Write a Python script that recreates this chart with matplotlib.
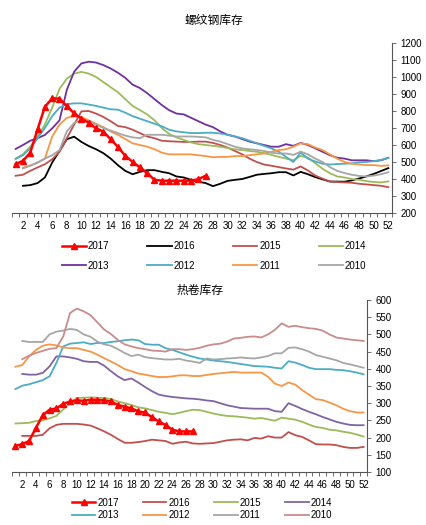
import matplotlib
matplotlib.use("Agg")
import matplotlib.pyplot as plt
import numpy as np

plt.rcParams['font.family'] = ['Liberation Sans', 'Noto Sans CJK SC', 'DejaVu Sans']

weeks = np.arange(1, 53)

# ---- rebar (螺纹钢库存) ----
rb_2017 = [487, 507, 555, 692, 825, 874, 872, 829, 786, 755, 731, 698, 679, 634, 589,
           536, 501, 468, 434, 395, 390, 390, 390, 390, 390, 399, 419]
rb_2016 = [None, 360, 364, 376, 409, 497, 565, 634, 649, 618, 594, 575, 552, 520, 481,
           448, 428, 442, 452, 452, 442, 434, 415, 409, 395, 384, 376, 358, 372, 389,
           395, 400, 412, 425, 430, 434, 440, 440, 421, 442, 428, 411, 398, 385, 385,
           384, 392, 403, 415, 430, 447, 464]
rb_2015 = [419, 425, 448, 468, 487, 516, 560, 640, 720, 798, 800, 785, 765, 740, 712,
           705, 690, 670, 650, 640, 625, 622, 620, 618, 618, 620, 620, 612, 600, 585,
           565, 545, 520, 500, 485, 478, 470, 462, 455, 474, 450, 420, 402, 385, 382,
           380, 378, 372, 368, 364, 360, 352]
rb_2014 = [520, 545, 590, 650, 720, 820, 930, 990, 1020, 1030, 1020, 1000, 970, 940, 910,
           870, 830, 805, 780, 745, 700, 665, 645, 630, 615, 605, 600, 595, 590, 582,
           575, 570, 565, 560, 552, 542, 530, 520, 510, 536, 525, 493, 460, 434, 415,
           409, 400, 395, 388, 382, 380, 386]
rb_2013 = [577, 600, 625, 640, 659, 698, 745, 924, 1031, 1080, 1090, 1085, 1070, 1050, 1025,
           995, 955, 935, 905, 870, 835, 805, 785, 780, 760, 740, 720, 705, 680, 660,
           650, 635, 620, 610, 600, 590, 590, 605, 595, 612, 600, 580, 560, 540, 525,
           520, 510, 510, 510, 505, 510, 525]
rb_2012 = [518, 540, 580, 640, 700, 770, 820, 840, 845, 845, 838, 830, 820, 810, 808,
           790, 770, 755, 740, 725, 710, 690, 680, 675, 670, 670, 672, 672, 668, 660,
           650, 640, 625, 610, 595, 580, 560, 530, 500, 555, 520, 503, 490, 485, 488,
           490, 492, 498, 500, 505, 512, 524]
rb_2011 = [None, 467, 480, 495, 520, 650, 720, 760, 770, 765, 745, 725, 705, 680, 660,
           635, 610, 600, 590, 575, 555, 545, 545, 545, 545, 540, 535, 528, 530, 530,
           535, 535, 540, 545, 550, 560, 570, 575, 590, 610, 605, 585, 570, 545, 520,
           500, 490, 485, 482, 482, 477, 480]
rb_2010 = [None, 462, 478, 498, 520, 540, 570, 680, 730, 745, 740, 720, 700, 685, 670,
           655, 645, 640, 660, 660, 660, 655, 650, 650, 650, 648, 645, 630, 620, 605,
           590, 580, 575, 570, 565, 555, 550, 550, 542, 561, 545, 520, 500, 470, 448,
           435, 425, 418, 415, 420, 428, 440]

# ---- hot coil (热卷库存) ----
hc_2017 = [176, 181, 190, 228, 265, 281, 285, 298, 305, 308, 307, 310, 310, 308, 305,
           295, 290, 285, 276, 273, 259, 247, 236, 223, 218, 218, 218]
hc_2016 = [None, 205, 205, 205, 208, 227, 237, 240, 240, 240, 238, 235, 227, 218, 208,
           196, 185, 185, 187, 190, 194, 192, 190, 182, 186, 188, 183, 182, 183, 184,
           188, 192, 194, 195, 192, 199, 197, 204, 200, 200, 216, 207, 202, 192, 181,
           180, 180, 178, 173, 170, 170, 173]
hc_2015 = [241, 242, 243, 248, 250, 256, 263, 282, 301, 315, 316, 317, 316, 315, 312,
           305, 300, 295, 288, 285, 280, 275, 272, 268, 272, 277, 281, 280, 275, 270,
           266, 263, 262, 260, 258, 255, 257, 253, 249, 258, 255, 252, 246, 238, 231,
           228, 223, 221, 217, 214, 209, 203]
hc_2014 = [None, 385, 383, 383, 388, 407, 436, 436, 433, 429, 422, 420, 420, 409, 393,
           378, 367, 372, 360, 347, 335, 325, 321, 318, 316, 314, 313, 311, 308, 306,
           300, 294, 290, 286, 285, 284, 284, 284, 277, 275, 300, 292, 283, 275, 268,
           260, 253, 246, 241, 237, 236, 236]
hc_2013 = [341, 351, 355, 361, 367, 378, 417, 465, 473, 475, 477, 472, 475, 475, 478,
           480, 483, 485, 483, 472, 470, 470, 460, 455, 448, 441, 435, 430, 427, 424,
           422, 420, 417, 414, 411, 408, 407, 406, 403, 401, 422, 418, 411, 403, 399,
           399, 399, 397, 396, 393, 389, 384]
hc_2012 = [406, 411, 436, 455, 467, 471, 468, 462, 460, 460, 455, 450, 441, 431, 421,
           411, 399, 393, 386, 383, 379, 376, 376, 378, 381, 381, 379, 379, 382, 385,
           387, 389, 391, 389, 389, 389, 389, 377, 357, 350, 360, 354, 338, 325, 312,
           309, 302, 294, 284, 277, 273, 273]
hc_2011 = [None, 481, 478, 478, 478, 500, 508, 511, 516, 513, 500, 493, 479, 471, 467,
           457, 446, 437, 441, 434, 431, 429, 427, 427, 429, 424, 421, 417, 430, 427,
           428, 430, 431, 433, 431, 430, 433, 437, 445, 445, 461, 462, 457, 450, 440,
           435, 430, 425, 417, 413, 408, 403]
hc_2010 = [None, 428, 438, 446, 452, 458, 460, 494, 562, 575, 567, 556, 535, 514, 501,
           484, 471, 465, 460, 457, 453, 452, 450, 457, 457, 455, 457, 461, 467, 471,
           473, 479, 488, 490, 493, 494, 491, 500, 513, 532, 522, 525, 521, 518, 516,
           511, 500, 491, 488, 485, 483, 481]

years = ['2017', '2016', '2015', '2014', '2013', '2012', '2011', '2010']
rb_series = [rb_2017, rb_2016, rb_2015, rb_2014, rb_2013, rb_2012, rb_2011, rb_2010]
hc_series = [hc_2017, hc_2016, hc_2015, hc_2014, hc_2013, hc_2012, hc_2011, hc_2010]
rb_colors = ['#FF0000', '#000000', '#C0504D', '#9BBB59', '#7030A0', '#4BACC6', '#F79646', '#A6A6A6']
hc_colors = ['#FF0000', '#C0504D', '#9BBB59', '#8064A2', '#4BACC6', '#F79646', '#A6A6A6', '#C98C8A']


def to_arr(vals):
    return np.array([np.nan if v is None else v for v in vals], dtype=float)


def draw(ax, series, colors, ylim, ystep):
    handles = []
    for i, (vals, c) in enumerate(zip(series, colors)):
        y = to_arr(vals)
        x = weeks[:len(y)]
        if i == 0:
            h, = ax.plot(x, y, color=c, lw=1.8, marker='^', markersize=5, zorder=10)
        else:
            h, = ax.plot(x, y, color=c, lw=1.3)
        handles.append(h)
    ax.set_xlim(0.5, 52.5)
    ax.set_ylim(*ylim)
    ax.yaxis.tick_right()
    ax.set_yticks(np.arange(ylim[0], ylim[1] + 1, ystep))
    for s in ['top', 'left']:
        ax.spines[s].set_visible(False)
    for s in ['right', 'bottom']:
        ax.spines[s].set_color('#555555')
        ax.spines[s].set_linewidth(0.8)
    # tick marks between weeks, labels on even weeks
    ax.set_xticks(np.arange(0.5, 53, 1))
    ax.set_xticklabels([])
    ax.set_xticks(np.arange(2, 53, 2), minor=True)
    ax.set_xticklabels([str(w) for w in range(2, 53, 2)], minor=True)
    ax.tick_params(axis='x', which='major', length=3, width=0.6, color='#555555')
    ax.tick_params(axis='x', which='minor', length=0, labelsize=7, pad=6)
    ax.tick_params(axis='y', length=3, width=0.6, color='#555555', labelsize=7, pad=3)
    return handles


fig = plt.figure(figsize=(4.27, 5.25), dpi=100)

ax1 = fig.add_axes([12 / 427, 1 - 213 / 525, 380 / 427, 170 / 525])
h1 = draw(ax1, rb_series, rb_colors, (200, 1200), 100)
ax2 = fig.add_axes([12 / 427, 1 - 472 / 525, 355 / 427, 172 / 525])
h2 = draw(ax2, hc_series, hc_colors, (100, 600), 50)

fig.text(214 / 427, 1 - 20 / 525, '螺纹钢库存', ha='center', va='center', fontsize=8.5,
         family=['Noto Sans CJK SC'])
fig.text(200 / 427, 1 - 290 / 525, '热卷库存', ha='center', va='center', fontsize=8.5,
         family=['Noto Sans CJK SC'])

order = [0, 4, 1, 5, 2, 6, 3, 7]
fig.legend([h1[i] for i in order], [years[i] for i in order], ncol=4, loc='center',
           bbox_to_anchor=(214 / 427, 1 - 256 / 525), frameon=False, fontsize=7,
           handlelength=2.5, handletextpad=0.2, columnspacing=3.9, labelspacing=0.95)
fig.legend([h2[i] for i in order], [years[i] for i in order], ncol=4, loc='center',
           bbox_to_anchor=(202 / 427, 1 - 509 / 525), frameon=False, fontsize=7,
           handlelength=2.4, handletextpad=0.2, columnspacing=2.5, labelspacing=0.25)

fig.savefig('out.png', dpi=100)
